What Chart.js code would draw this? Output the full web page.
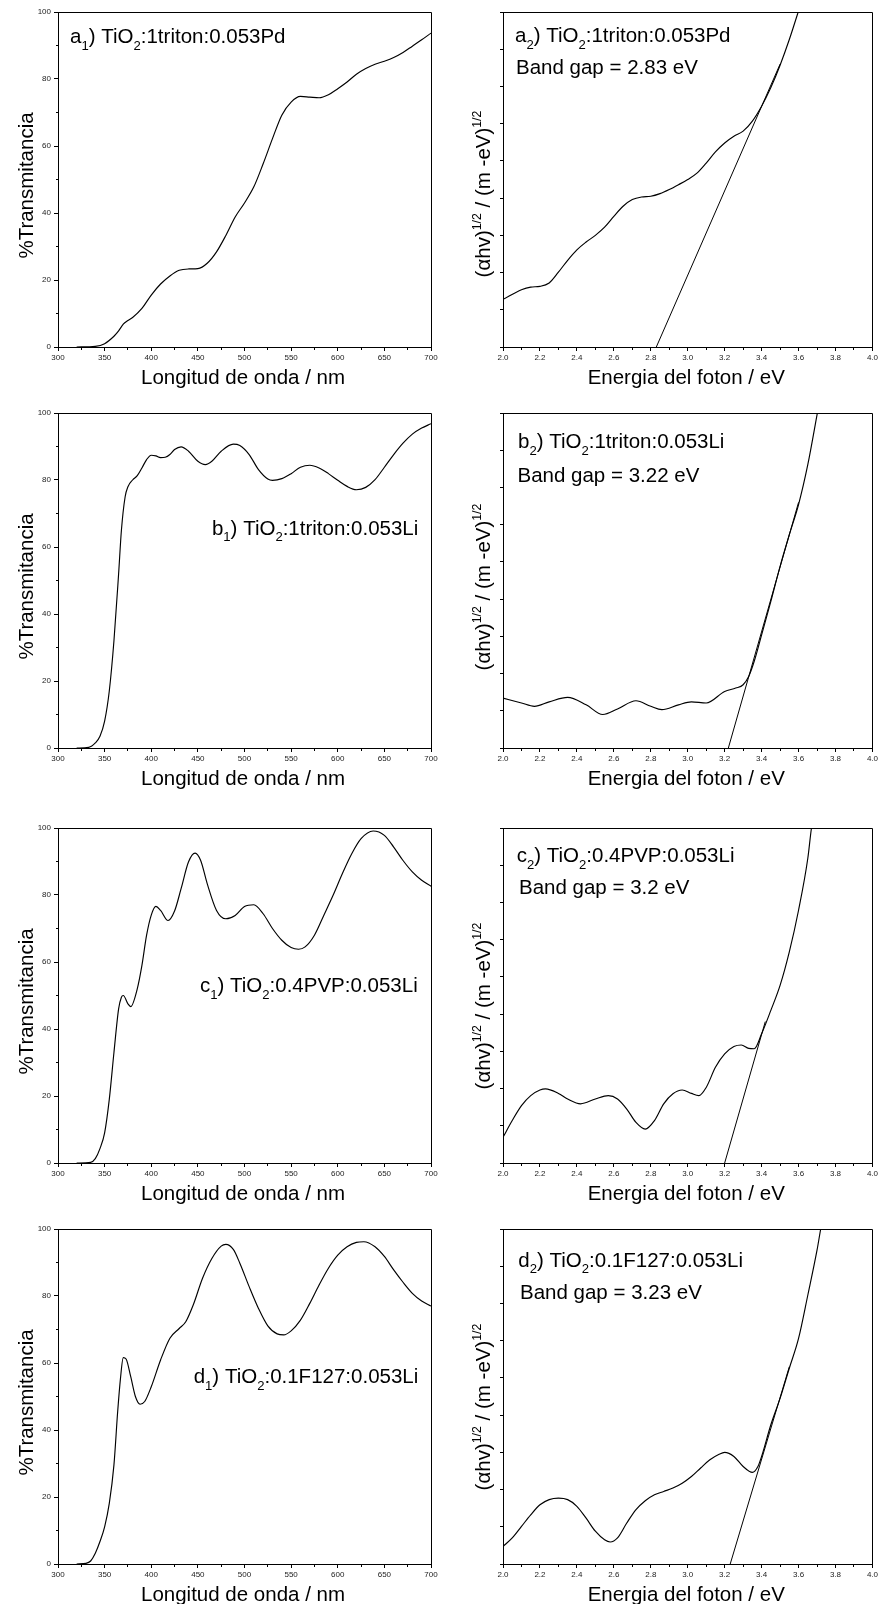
<!DOCTYPE html>
<html lang="es">
<head>
<meta charset="utf-8">
<title>Transmitancia y band gap de películas de TiO2</title>
<script src="https://cdn.jsdelivr.net/npm/chart.js@4.4.1/dist/chart.umd.min.js"></script>
<style>
  html, body { margin: 0; padding: 0; background: #fff; }
  body { position: relative; width: 880px; height: 1604px; overflow: hidden; }
  canvas { position: absolute; display: block; }
</style>
</head>
<body>
<canvas id="a1" width="440" height="400" style="left:0;top:0"></canvas>
<canvas id="a2" width="440" height="400" style="left:440px;top:0"></canvas>
<canvas id="b1" width="440" height="400" style="left:0;top:401px"></canvas>
<canvas id="b2" width="440" height="400" style="left:440px;top:401px"></canvas>
<canvas id="c1" width="440" height="400" style="left:0;top:816px"></canvas>
<canvas id="c2" width="440" height="400" style="left:440px;top:816px"></canvas>
<canvas id="d1" width="440" height="400" style="left:0;top:1217px"></canvas>
<canvas id="d2" width="440" height="400" style="left:440px;top:1217px"></canvas>
<script>
// ---------- axis ticks ----------
const wlMajor = [300, 350, 400, 450, 500, 550, 600, 650, 700];
const wlMinor = [325, 375, 425, 475, 525, 575, 625, 675];
const wlLabels = ['300', '350', '400', '450', '500', '550', '600', '650', '700'];
const tMajor = [0, 20, 40, 60, 80, 100];
const tMinor = [10, 30, 50, 70, 90];
const tLabels = ['0', '20', '40', '60', '80', '100'];
const eMajor = [2.0, 2.2, 2.4, 2.6, 2.8, 3.0, 3.2, 3.4, 3.6, 3.8, 4.0];
const eMinor = [2.1, 2.3, 2.5, 2.7, 2.9, 3.1, 3.3, 3.5, 3.7, 3.9];
const eLabels = ['2.0', '2.2', '2.4', '2.6', '2.8', '3.0', '3.2', '3.4', '3.6', '3.8', '4.0'];
const tauTicks = [0, 1, 2, 3, 4, 5, 6, 7, 8, 9];

// ---------- a) TiO2:1triton:0.053Pd ----------
const wlA1 = [320, 340, 350, 360, 365, 370, 375, 380, 390, 400, 410, 420, 430, 440, 450, 460, 470, 480, 490, 500, 510, 520, 530, 540, 550, 560, 570, 580, 590, 600, 610, 620, 630, 640, 650, 660, 670, 680, 690, 700];
const tA1 = [0, 0.2, 1.0, 3.2, 4.8, 6.8, 7.9, 8.8, 11.5, 15.5, 18.8, 21.2, 22.9, 23.3, 23.4, 25, 28.4, 33.3, 38.8, 43, 47.8, 54.7, 62.2, 69.2, 73.1, 74.8, 74.6, 74.4, 75.3, 77.1, 79.1, 81.4, 83.1, 84.4, 85.3, 86.4, 87.9, 89.8, 91.7, 93.7];
const eA2 = [2.0, 2.1, 2.15, 2.2, 2.25, 2.3, 2.35, 2.4, 2.45, 2.5, 2.55, 2.6, 2.65, 2.7, 2.75, 2.8, 2.85, 2.9, 2.95, 3.0, 3.05, 3.1, 3.15, 3.2, 3.25, 3.3, 3.35, 3.4, 3.45, 3.5, 3.55, 3.6, 3.62];
const tauA2 = [1.28, 1.54, 1.61, 1.63, 1.72, 2.01, 2.33, 2.61, 2.82, 3.0, 3.22, 3.51, 3.78, 3.96, 4.03, 4.05, 4.12, 4.23, 4.36, 4.5, 4.67, 4.94, 5.24, 5.48, 5.66, 5.8, 6.07, 6.47, 6.97, 7.57, 8.26, 9.03, 9.35];
const gapA2 = 2.83;
const fitA2X = [gapA2, 3.50];
const fitA2Y = [0, 7.6];

// ---------- b) TiO2:1triton:0.053Li ----------
const wlB1 = [320, 333, 340, 345, 350, 355, 360, 365, 368, 372, 375, 380, 385, 390, 395, 400, 405, 410, 415, 420, 425, 432, 440, 450, 458, 465, 475, 488, 495, 505, 515, 525, 530, 540, 550, 560, 570, 580, 590, 600, 610, 620, 630, 640, 650, 660, 670, 680, 690, 700];
const tB1 = [0, 0.2, 1.5, 3.5, 8, 17, 32, 52, 65, 75, 78, 80, 81.3, 83.6, 86.1, 87.4, 87.2, 86.7, 86.8, 87.6, 89.1, 89.9, 88.6, 85.6, 84.6, 85.6, 88.6, 90.7, 90.3, 87.6, 83.1, 80.3, 79.9, 80.4, 81.9, 83.8, 84.4, 83.6, 81.9, 79.9, 78.1, 77.1, 77.8, 80.1, 83.8, 87.6, 91.0, 93.7, 95.5, 96.8];
const eB2 = [2.0, 2.1, 2.17, 2.25, 2.35, 2.45, 2.54, 2.62, 2.72, 2.8, 2.86, 2.95, 3.02, 3.1, 3.2, 3.26, 3.3, 3.33, 3.36, 3.4, 3.45, 3.5, 3.55, 3.6, 3.65, 3.7, 3.72];
const tauB2 = [1.34, 1.21, 1.12, 1.24, 1.36, 1.16, 0.9, 1.05, 1.27, 1.12, 1.03, 1.16, 1.24, 1.21, 1.52, 1.61, 1.7, 1.92, 2.33, 3.04, 3.94, 4.88, 5.73, 6.54, 7.61, 8.95, 9.5];
const gapB2 = 3.22;
const fitB2X = [gapB2, 3.60];
const fitB2Y = [0, 6.6];

// ---------- c) TiO2:0.4PVP:0.053Li ----------
const wlC1 = [320, 335, 340, 345, 350, 355, 360, 365, 368, 370, 375, 378, 385, 390, 395, 400, 405, 410, 418, 425, 432, 440, 447, 453, 460, 470, 480, 490, 500, 510, 520, 530, 540, 550, 558, 565, 575, 585, 595, 605, 615, 625, 638, 650, 660, 670, 680, 690, 700];
const tC1 = [0, 0.2, 1.3, 4.3, 9, 19, 33, 46, 49.5, 50, 47.5, 46.7, 52, 59, 68, 74, 76.6, 75.4, 72.4, 75.2, 81.9, 89.9, 92.5, 90.3, 83.4, 75.4, 72.9, 73.9, 76.6, 77.1, 74.4, 70, 66.5, 64.3, 63.8, 64.5, 68, 73.9, 79.9, 86.4, 92.3, 96.8, 99.1, 97.8, 94.3, 90.3, 86.9, 84.4, 82.6];
const eC2 = [2.0, 2.05, 2.1, 2.15, 2.2, 2.23, 2.3, 2.35, 2.42, 2.5, 2.57, 2.62, 2.67, 2.72, 2.77, 2.82, 2.87, 2.92, 2.97, 3.02, 3.06, 3.1, 3.15, 3.2, 3.25, 3.29, 3.33, 3.36, 3.4, 3.45, 3.5, 3.55, 3.6, 3.65, 3.67, 3.69];
const tauC2 = [0.69, 1.14, 1.54, 1.81, 1.96, 1.99, 1.87, 1.72, 1.59, 1.72, 1.81, 1.72, 1.45, 1.09, 0.91, 1.14, 1.59, 1.86, 1.96, 1.87, 1.81, 2.03, 2.57, 2.93, 3.13, 3.17, 3.08, 3.07, 3.47, 4.1, 4.77, 5.67, 6.79, 8.18, 9.0, 9.5];
const gapC2 = 3.2;
const fitC2X = [gapC2, 3.42];
const fitC2Y = [0, 3.8];

// ---------- d) TiO2:0.1F127:0.053Li ----------
const wlD1 = [320, 330, 335, 340, 345, 350, 355, 360, 364, 367, 370, 373, 378, 383, 388, 393, 400, 410, 420, 430, 437, 445, 455, 465, 475, 480, 488, 495, 505, 515, 525, 535, 542, 550, 560, 570, 580, 590, 600, 610, 620, 628, 640, 650, 660, 670, 680, 690, 700];
const tD1 = [0, 0.2, 0.9, 3.2, 6.7, 11.1, 18.1, 29.6, 45.5, 55.4, 61.6, 61.2, 55.9, 50, 47.7, 48.5, 52.9, 60.9, 67.4, 70.3, 72.3, 77.3, 85.3, 91.2, 94.9, 95.4, 93.9, 89.8, 82.8, 76.3, 71.1, 68.7, 68.4, 69.6, 72.8, 77.8, 83.3, 88.3, 92.2, 94.7, 96, 96.2, 94.7, 91.8, 87.8, 84.1, 80.8, 78.5, 77.0];
const eD2 = [2.0, 2.05, 2.1, 2.15, 2.2, 2.25, 2.3, 2.35, 2.4, 2.45, 2.5, 2.55, 2.58, 2.62, 2.67, 2.72, 2.77, 2.82, 2.87, 2.92, 2.97, 3.02, 3.07, 3.12, 3.17, 3.2, 3.25, 3.3, 3.35, 3.38, 3.4, 3.45, 3.5, 3.55, 3.6, 3.65, 3.7, 3.72, 3.74];
const tauD2 = [0.47, 0.7, 1.01, 1.32, 1.59, 1.73, 1.77, 1.73, 1.55, 1.23, 0.88, 0.65, 0.59, 0.7, 1.1, 1.46, 1.7, 1.86, 1.95, 2.04, 2.17, 2.35, 2.58, 2.8, 2.95, 3.0, 2.89, 2.62, 2.46, 2.62, 2.89, 3.74, 4.45, 5.26, 6.06, 7.22, 8.43, 9.0, 9.5];
const gapD2 = 3.23;
const fitD2X = [gapD2, 3.55];
const fitD2Y = [0, 5.3];

// ---------- text ----------
const titleWl = 'Longitud de onda / nm';
const titleE = 'Energia del foton / eV';
const titleT = '%Transmitancia';
const titleTauc = '(αhv)^{1/2} / (m -eV)^{1/2}';
const gapText = g => 'Band gap = ' + g + ' eV';

const FONT = '"Liberation Sans", Arial, Helvetica, sans-serif';
const TEXT_SIZE = 20.5;

// panel definitions: data + note text; note placement relative to the plot area
const panels = [
  { id: 'a1', kind: 'T', x: wlA1, y: tA1, notes: ['a_1) TiO_2:1triton:0.053Pd'],
    place: { align: 'left', dx: [12], dy: [31] } },
  { id: 'a2', kind: 'E', x: eA2, y: tauA2, fitX: fitA2X, fitY: fitA2Y,
    notes: ['a_2) TiO_2:1triton:0.053Pd', gapText(gapA2)],
    place: { align: 'left', dx: [12, 13], dy: [30, 61.6] }, titleShift: 4 },
  { id: 'b1', kind: 'T', x: wlB1, y: tB1, notes: ['b_1) TiO_2:1triton:0.053Li'],
    place: { align: 'right', dx: [-12.7], dy: [121.7] } },
  { id: 'b2', kind: 'E', x: eB2, y: tauB2, fitX: fitB2X, fitY: fitB2Y,
    notes: ['b_2) TiO_2:1triton:0.053Li', gapText(gapB2)],
    place: { align: 'left', dx: [15, 14.5], dy: [35, 69] }, titleShift: -4 },
  { id: 'c1', kind: 'T', x: wlC1, y: tC1, notes: ['c_1) TiO_2:0.4PVP:0.053Li'],
    place: { align: 'right', dx: [-13.3], dy: [164] } },
  { id: 'c2', kind: 'E', x: eC2, y: tauC2, fitX: fitC2X, fitY: fitC2Y,
    notes: ['c_2) TiO_2:0.4PVP:0.053Li', gapText(gapC2)],
    place: { align: 'left', dx: [13.7, 16], dy: [34, 66.3] }, titleShift: 0 },
  { id: 'd1', kind: 'T', x: wlD1, y: tD1, notes: ['d_1) TiO_2:0.1F127:0.053Li'],
    place: { align: 'right', dx: [-12.7], dy: [154.3] } },
  { id: 'd2', kind: 'E', x: eD2, y: tauD2, fitX: fitD2X, fitY: fitD2Y,
    notes: ['d_2) TiO_2:0.1F127:0.053Li', gapText(gapD2)],
    place: { align: 'left', dx: [15.3, 17], dy: [37.7, 70] }, titleShift: 0 },
];

// ---------- rich text (sub/superscripts) ----------
function parseRich(s) {
  const segs = [];
  let buf = '', i = 0;
  const flush = () => { if (buf) { segs.push({ t: buf, k: 'n' }); buf = ''; } };
  while (i < s.length) {
    const c = s[i];
    if (c === '_' || c === '^') {
      flush();
      let t;
      if (s[i + 1] === '{') { const j = s.indexOf('}', i); t = s.slice(i + 2, j); i = j + 1; }
      else { t = s[i + 1]; i += 2; }
      segs.push({ t, k: c === '_' ? 'sub' : 'sup' });
    } else { buf += c; i++; }
  }
  flush();
  return segs;
}
function segFont(seg, size) {
  const s = seg.k === 'n' ? size : seg.k === 'sub' ? size * 0.64 : size * 0.6;
  return s + 'px ' + FONT;
}
function richWidth(ctx, segs, size) {
  let w = 0;
  for (const s of segs) { ctx.font = segFont(s, size); w += ctx.measureText(s.t).width; }
  return w;
}
function drawRich(ctx, segs, x, y, size) {
  ctx.textAlign = 'left';
  ctx.textBaseline = 'alphabetic';
  let cx = x;
  for (const s of segs) {
    ctx.font = segFont(s, size);
    const dy = s.k === 'sub' ? size * 0.33 : s.k === 'sup' ? -size * 0.42 : 0;
    ctx.fillText(s.t, cx, y + dy);
    cx += ctx.measureText(s.t).width;
  }
}

// crisp 1px lines, same rule Chart.js uses for its own axis lines
const align = v => Math.round(v - 0.5) + 0.5;
const near = (list, v) => list.some(m => Math.abs(m - v) < 1e-6);

// frame, minor ticks, axis titles and panel notes
function decorPlugin(p) {
  const isT = p.kind === 'T';
  const xMinor = isT ? wlMinor : eMinor;
  const yMinor = isT ? tMinor : [];
  return {
    id: 'decor_' + p.id,
    afterDraw(chart) {
      const { ctx, chartArea: ca } = chart;
      const xs = chart.scales.x, ys = chart.scales.y;
      const L = align(ca.left), R = align(ca.right), T = align(ca.top), B = align(ca.bottom);
      ctx.save();
      ctx.strokeStyle = '#000';
      ctx.lineWidth = 1;
      ctx.beginPath();
      ctx.moveTo(L, T); ctx.lineTo(R, T); ctx.lineTo(R, B);
      ctx.stroke();

      ctx.beginPath();
      for (const v of xMinor) {
        const px = align(xs.getPixelForValue(v));
        ctx.moveTo(px, B); ctx.lineTo(px, B + 2.5);
      }
      for (const v of yMinor) {
        const py = align(ys.getPixelForValue(v));
        ctx.moveTo(L, py); ctx.lineTo(L - 2.5, py);
      }
      ctx.stroke();

      ctx.fillStyle = '#000';
      // x title
      const xt = parseRich(isT ? titleWl : titleE);
      const xw = richWidth(ctx, xt, TEXT_SIZE);
      drawRich(ctx, xt, (ca.left + ca.right) / 2 - 1.5 - xw / 2, ca.bottom + 36.5, TEXT_SIZE);

      // y title (rotated)
      const yt = parseRich(isT ? titleT : titleTauc);
      const yw = richWidth(ctx, yt, TEXT_SIZE);
      const cy = isT ? (ca.top + ca.bottom) / 2 + 6 : ca.top + 178 + (p.titleShift || 0);
      const bx = isT ? ca.left - 25 : ca.left - 13;
      ctx.save();
      ctx.translate(bx, cy);
      ctx.rotate(-Math.PI / 2);
      drawRich(ctx, yt, -yw / 2, 0, TEXT_SIZE);
      ctx.restore();

      // notes
      p.notes.forEach((txt, i) => {
        const segs = parseRich(txt);
        const w = richWidth(ctx, segs, TEXT_SIZE);
        const dx = p.place.dx[i];
        const x = p.place.align === 'left' ? ca.left + dx : ca.right + dx - w;
        drawRich(ctx, segs, x, ca.top + p.place.dy[i], TEXT_SIZE);
      });
      ctx.restore();
    }
  };
}

function makeChart(p) {
  const isT = p.kind === 'T';
  const xMajor = isT ? wlMajor : eMajor;
  const xLabels = isT ? wlLabels : eLabels;
  const xAll = (isT ? wlMajor.concat(wlMinor) : eMajor.concat(eMinor)).slice().sort((a, b) => a - b);
  const yAll = isT ? tMajor.concat(tMinor).sort((a, b) => a - b) : tauTicks;

  const datasets = [{
    data: p.x.map((x, i) => ({ x, y: p.y[i] })),
    borderColor: '#000', borderWidth: 1.15, pointRadius: 0,
    tension: 0.4, cubicInterpolationMode: 'monotone', fill: false
  }];
  if (p.fitX) {
    datasets.push({
      data: p.fitX.map((x, i) => ({ x, y: p.fitY[i] })),
      borderColor: '#000', borderWidth: 1, pointRadius: 0, tension: 0, fill: false
    });
  }

  const tickFont = { family: FONT, size: 8 };
  return new Chart(document.getElementById(p.id), {
    type: 'line',
    data: { datasets },
    options: {
      responsive: false,
      animation: false,
      events: [],
      layout: { autoPadding: false, padding: { top: 12, right: isT ? 9 : 4, bottom: 0, left: 0 } },
      plugins: { legend: { display: false }, tooltip: { enabled: false } },
      scales: {
        x: {
          type: 'linear',
          min: isT ? 300 : 2.0,
          max: isT ? 700 : 4.0,
          afterBuildTicks: sc => { sc.ticks = xAll.map(v => ({ value: v })); },
          afterFit: sc => { sc.height = 53; },
          border: { display: true, color: '#000', width: 1 },
          grid: {
            display: true, drawOnChartArea: false, drawTicks: true, tickLength: 4, tickWidth: 1,
            tickColor: c => (c.tick && near(xMajor, c.tick.value)) ? '#000' : 'rgba(0,0,0,0)'
          },
          ticks: {
            autoSkip: false, maxRotation: 0, minRotation: 0, padding: 2,
            color: '#222', font: tickFont,
            callback: v => {
              const k = xMajor.findIndex(m => Math.abs(m - v) < 1e-6);
              return k >= 0 ? xLabels[k] : '';
            }
          }
        },
        y: {
          type: 'linear',
          min: 0,
          max: isT ? 100 : 9,
          afterBuildTicks: sc => { sc.ticks = yAll.map(v => ({ value: v })); },
          afterFit: sc => { sc.width = isT ? 58 : 63; },
          border: { display: true, color: '#000', width: 1 },
          grid: {
            display: true, drawOnChartArea: false, drawTicks: true, tickLength: isT ? 4 : 3, tickWidth: 1,
            tickColor: c => (!isT || (c.tick && near(tMajor, c.tick.value))) ? '#000' : 'rgba(0,0,0,0)'
          },
          ticks: {
            autoSkip: false, padding: 3, color: '#222', font: tickFont,
            callback: v => {
              if (!isT) return '';
              const k = tMajor.indexOf(v);
              return k >= 0 ? tLabels[k] : '';
            }
          }
        }
      }
    },
    plugins: [decorPlugin(p)]
  });
}

panels.forEach(makeChart);
</script>
</body>
</html>
